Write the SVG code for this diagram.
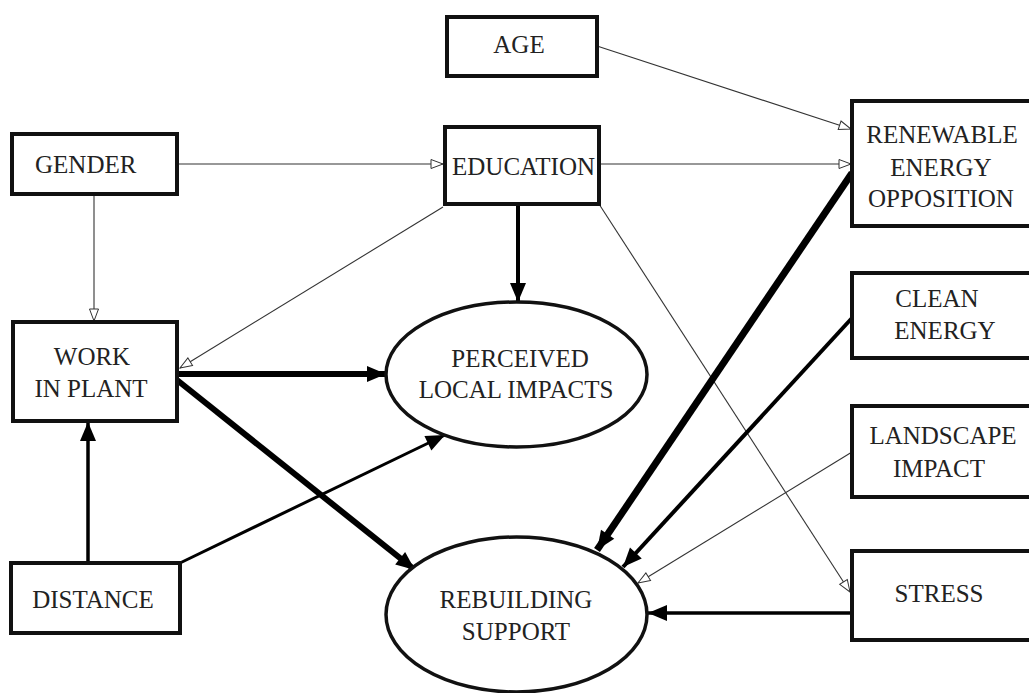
<svg xmlns="http://www.w3.org/2000/svg" width="1029" height="693" viewBox="0 0 1029 693">
<style>
.box{fill:#fff;stroke:#111;stroke-width:4}
.ell{fill:#fff;stroke:#111;stroke-width:3.5}
text{font-family:'Liberation Serif','DejaVu Serif',serif;font-size:25px;fill:#222}
.c{text-anchor:middle}
.thin{stroke:#333;stroke-width:1.1;fill:none;marker-end:url(#open)}
.bold{stroke:#000;fill:none;marker-end:url(#solid)}
</style>
<defs>
<marker id="open" markerUnits="userSpaceOnUse" markerWidth="14" markerHeight="12" refX="13" refY="5" orient="auto" overflow="visible">
<path d="M1,0.5 L13,5 L1,9.5 Z" fill="#fff" stroke="#333" stroke-width="1"/>
</marker>
<marker id="solid" markerUnits="userSpaceOnUse" markerWidth="20" markerHeight="16" refX="19" refY="8" orient="auto" overflow="visible">
<path d="M0,0 L19,8 L0,16 Z" fill="#000"/>
</marker>
</defs>
<rect width="1029" height="693" fill="#fff"/>
<g id="connectors">
<line class="thin" x1="177" y1="164" x2="443" y2="164"/>
<line class="thin" x1="94" y1="194" x2="94" y2="321"/>
<line class="thin" x1="443" y1="207" x2="180" y2="368"/>
<line class="thin" x1="597" y1="46" x2="851" y2="129"/>
<line class="thin" x1="599" y1="164" x2="851" y2="164"/>
<line class="thin" x1="852" y1="452" x2="638" y2="583"/>
<line class="thin" x1="599" y1="204" x2="850" y2="592"/>
<line class="bold" stroke-width="4" x1="518" y1="204" x2="518" y2="302"/>
<line class="bold" stroke-width="6" x1="177" y1="374" x2="386" y2="374"/>
<line class="bold" stroke-width="6" x1="177" y1="380" x2="415" y2="570"/>
<line class="bold" stroke-width="3.5" x1="88" y1="563" x2="88" y2="422"/>
<line class="bold" stroke-width="3" x1="180" y1="563" x2="445" y2="435"/>
<line class="bold" stroke-width="7" x1="852" y1="173" x2="597" y2="550"/>
<line class="bold" stroke-width="4" x1="852" y1="318" x2="623" y2="567"/>
<line class="bold" stroke-width="3.5" x1="852" y1="613" x2="648" y2="613"/>
</g>
<g id="age"><rect class="box" x="447" y="17" width="150" height="59"/><text class="c" x="519" y="53">AGE</text></g>
<g id="gender"><rect class="box" x="12" y="134" width="165" height="60"/><text x="35" y="173">GENDER</text></g>
<g id="education"><rect class="box" x="445" y="127" width="154" height="77"/><text x="452" y="175">EDUCATION</text></g>
<g id="renewable"><rect class="box" x="852" y="101" width="190" height="125"/><text class="c" x="942" y="143">RENEWABLE</text><text class="c" x="941" y="176">ENERGY</text><text class="c" x="941" y="207">OPPOSITION</text></g>
<g id="clean"><rect class="box" x="852" y="273" width="190" height="85"/><text class="c" x="937" y="307">CLEAN</text><text class="c" x="945" y="339">ENERGY</text></g>
<g id="landscape"><rect class="box" x="852" y="406" width="190" height="91"/><text class="c" x="943" y="444">LANDSCAPE</text><text class="c" x="939" y="477">IMPACT</text></g>
<g id="stress"><rect class="box" x="852" y="551" width="190" height="89"/><text class="c" x="939" y="602">STRESS</text></g>
<g id="work"><rect class="box" x="13" y="322" width="164" height="99"/><text class="c" x="92" y="365">WORK</text><text class="c" x="91" y="397">IN PLANT</text></g>
<g id="distance"><rect class="box" x="11" y="563" width="169" height="70"/><text class="c" x="93" y="608">DISTANCE</text></g>
<g id="perceived"><ellipse class="ell" cx="516.5" cy="374.5" rx="130.5" ry="72.5"/><text class="c" x="520" y="367">PERCEIVED</text><text class="c" x="516" y="398">LOCAL IMPACTS</text></g>
<g id="rebuilding"><ellipse class="ell" cx="516.5" cy="614.5" rx="130.5" ry="77.5"/><text class="c" x="516" y="608">REBUILDING</text><text class="c" x="516" y="640">SUPPORT</text></g>
</svg>
